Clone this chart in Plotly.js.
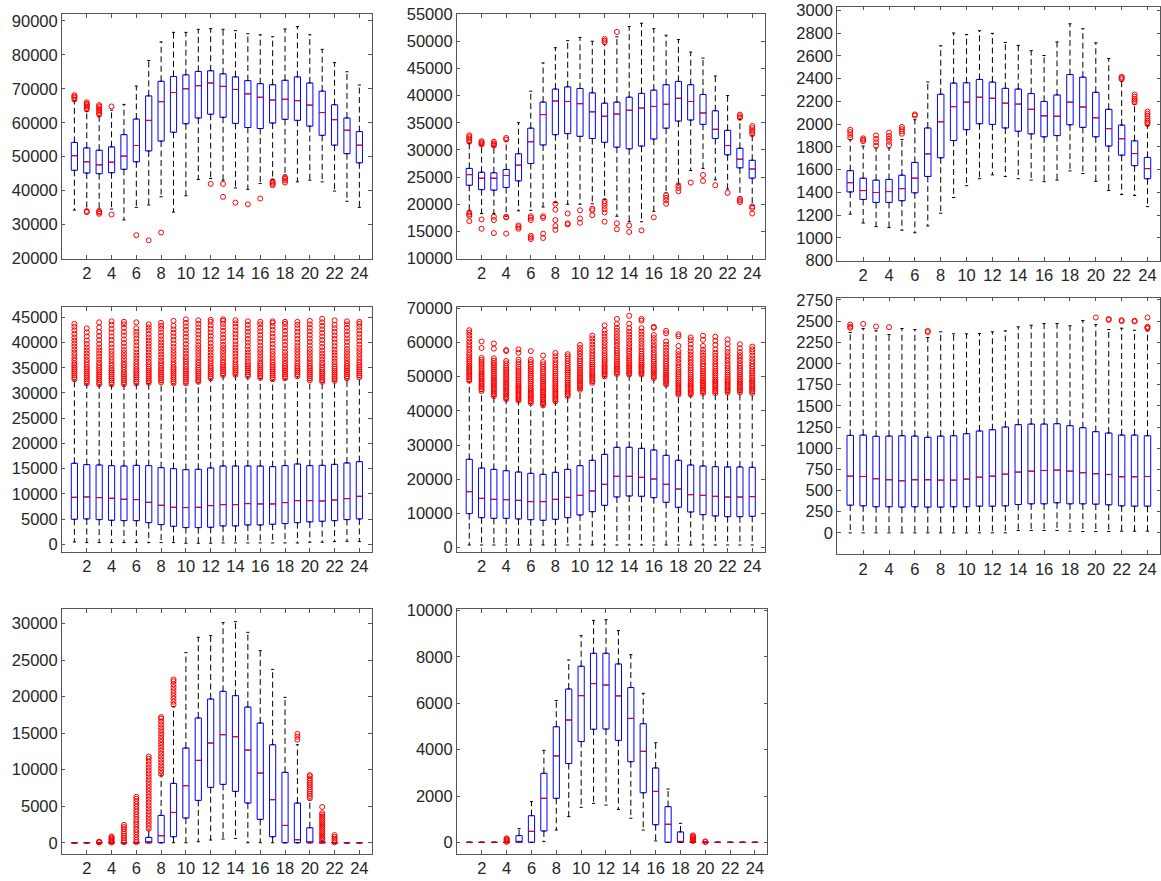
<!DOCTYPE html>
<html><head><meta charset="utf-8">
<script src="https://cdn.plot.ly/plotly-3.0.1.min.js"></script>
<style>html,body{margin:0;padding:0;background:#fff}#chart{width:1161px;height:881px}</style>
</head><body><div id="chart"></div>
<script>
const hours = [1,2,3,4,5,6,7,8,9,10,11,12,13,14,15,16,17,18,19,20,21,22,23,24];
const hourTicks = [2,4,6,8,10,12,14,16,18,20,22,24];

// Panel 1
const p1Lower  = [34300,34500,34600,34600,31400,35100,35800,38200,33700,38500,43300,43600,43100,40800,40400,42100,43300,44600,42600,43100,42600,39900,36900,35100];
const p1Q1     = [46000,45200,45000,45300,46300,48500,51700,54600,57200,59700,61400,62500,61600,59800,58600,58300,59900,61000,60700,59000,56300,53400,50900,48200];
const p1Median = [50300,48500,47600,48400,50200,53300,60700,66200,68900,70000,70900,71700,70700,69800,68500,67500,66700,66900,66500,65200,63000,60900,57800,53400];
const p1Q3     = [54200,52600,51900,52900,56500,61100,67900,72200,73600,74100,75100,75300,74400,73500,72400,71500,71200,72500,73500,71700,69300,65300,61400,57400];
const p1Upper  = [66500,63300,61800,63700,65400,70800,78300,83800,86600,86600,87500,87700,87500,87100,86200,85900,85300,87600,88300,85900,81600,77700,75000,71100];
const p1Outliers = [[66800,67300,67700,68100],[33700,34000,63900,64300,64800,65200,65600,66000],[33200,33600,34000,62400,62800,63300,63800,64300,64800,65200],[33000,64800],[],[26900],[25400],[27700],[],[],[],[42000],[42000,38200],[36500],[36000],[37700],[41600,42000,42400,42800],[42400,43000,43500,44000],[],[],[],[],[],[]];

// Panel 2
const p2Lower  = [18800,18300,18300,17800,18800,18900,19500,20300,20000,20000,20100,20900,17800,16800,16800,18700,22100,23700,26200,26600,24500,22800,21400,19800];
const p2Q1     = [23500,22700,22600,23100,24300,27500,30900,32800,33000,32500,32100,31400,30500,30200,30700,32000,34000,35300,35500,34700,32100,29100,26700,24800];
const p2Median = [25450,24800,24800,25300,27200,31500,36500,39000,38900,38500,37000,36200,36600,37300,37700,38000,38400,39500,38900,36800,33800,30800,28300,26500];
const p2Q3     = [26600,25900,25800,26400,29300,34000,38800,41200,41600,41300,40500,38600,38800,39700,40400,41000,42000,42600,42000,40200,37200,33600,30300,28100];
const p2Upper  = [31200,30800,30600,31600,35000,40800,46000,48800,50100,50700,50000,49400,50800,52700,53300,52300,51100,50300,48000,46900,43600,40000,35600,32600];
const p2Outliers = [[31500,31800,32100,32400,32700,18500,18200,17900,16900],[31000,31200,31400,31600,17200,15500],[30800,31000,31200,31500,17700,17100,14700],[31900,32200,17700,17600,14600],[16100,15800,15500],[17800,17500,17100,14200,13900,13600],[17800,17500,14600,13800],[20100,19000,17100,16000,15300],[18300,16500,16300],[18900,17400,16600],[19200,18900,18000],[49800,50100,50400,20600,20200,19700,19100,18500,16800],[51700,16500,15400],[16100,14900],[15200],[17600],[21700,21200,20700,20100],[23500,23000,22400],[24000],[25400,24300],[23500],[22100],[35900,36200,36500,21000,20700,20400],[32900,33300,33600,34000,34400,19600,19300,18300]];

// Panel 3
const p3Lower  = [1209,1131,1099,1091,1068,1045,1105,1217,1355,1459,1520,1554,1540,1520,1508,1494,1508,1589,1566,1497,1416,1381,1373,1275];
const p3Q1     = [1404,1338,1312,1312,1327,1396,1540,1704,1856,1951,2003,1997,1966,1937,1914,1888,1899,1994,1971,1888,1807,1727,1635,1520];
const p3Median = [1485,1416,1399,1407,1433,1525,1738,2020,2153,2193,2236,2227,2184,2176,2130,2072,2069,2193,2150,2055,1960,1871,1741,1609];
const p3Q3     = [1591,1525,1508,1514,1551,1663,1966,2262,2360,2363,2392,2369,2314,2308,2268,2199,2256,2435,2412,2279,2130,1991,1853,1707];
const p3Upper  = [1865,1807,1790,1790,1865,2038,2369,2688,2800,2786,2820,2797,2717,2691,2645,2602,2722,2881,2838,2714,2576,2374,2173,1986];
const p3Outliers = [[1880,1905,1930,1950],[1850,1862,1875],[1810,1840,1870,1900],[1815,1845,1870,1895,1925],[1915,1935,1955,1975],[2075,2085],[],[],[],[],[],[],[],[],[],[],[],[],[],[],[],[2395,2405,2415],[2190,2205,2220,2240,2260],[2000,2015,2030,2050,2070,2090,2110]];

// Panel 4
const p4Lower  = [460,330,330,330,330,330,330,330,330,200,200,200,260,260,260,260,260,260,260,400,400,530,590,530];
const p4Q1     = [4950,5020,4890,4760,4690,4690,4290,3900,3570,3300,3300,3370,3630,3630,3830,3830,3960,4100,4290,4430,4560,4690,4890,5020];
const p4Median = [9310,9380,9250,9120,8920,8850,8320,7730,7330,7270,7330,7660,7860,7860,8060,7990,7990,8260,8650,8650,8590,8780,9050,9510];
const p4Q3     = [16050,15790,15720,15590,15520,15650,15590,15190,14990,14800,14860,15130,15520,15520,15520,15520,15390,15590,15920,15590,15650,15850,16120,16380];
const p4Upper  = [32560,31770,31570,31570,31570,31770,31900,32030,31770,31770,32100,32760,33420,33550,33220,32890,32560,32760,33220,32430,32100,32360,32760,33020];
const p4Outliers = [
[32700,33100,33500,33900,34300,34700,35100,35500,35900,36400,36900,37500,38000,38600,39200,39800,40400,41000,41700,42400,43100,43700],
[31900,32300,32700,33100,33500,33900,34300,34700,35100,35600,36100,36600,37200,37800,38400,39000,39700,40400,41200,42000,42800],
[31700,32100,32500,32900,33300,33700,34100,34500,35000,35500,36000,36600,37200,37800,38400,39000,39700,40500,41300,42100,43000,44000],
[31700,32100,32500,32900,33300,33700,34100,34500,34900,35400,35900,36500,37100,37700,38300,39000,39700,40500,41200,42000,42700,43500,44200],
[31700,32100,32500,32900,33300,33700,34100,34600,35100,35600,36100,36700,37300,37900,38500,39200,39900,40600,41400,42100,42900,43600,44100],
[31900,32300,32700,33100,33500,33900,34300,34700,35200,35700,36200,36800,37400,38000,38700,39400,40100,40800,41500,42100,42800,44000],
[32000,32400,32800,33200,33600,34000,34400,34800,35200,35700,36200,36800,37400,38000,38600,39200,39800,40400,41000,41700,42400,43000,43600],
[32100,32500,32900,33300,33700,34100,34500,34900,35400,35900,36400,37000,37600,38200,38800,39400,40000,40600,41300,42000,42700,43300,43900],
[31900,32300,32700,33100,33500,33900,34300,34700,35100,35600,36100,36700,37300,37900,38500,39100,39800,40500,41200,41900,42600,43300,44300],
[31900,32300,32700,33100,33500,33900,34300,34700,35200,35700,36200,36700,37200,37800,38400,39000,39700,40400,41100,41800,42500,43200,43900,44600],
[32200,32600,33000,33400,33800,34200,34600,35000,35500,36000,36500,37100,37700,38300,38900,39500,40200,40900,41600,42300,43000,43700,44400],
[32900,33300,33700,34100,34500,34900,35300,35800,36300,36800,37400,38000,38600,39200,39900,40600,41300,42000,42700,43400,44100,44500],
[33500,33900,34300,34700,35100,35500,36000,36500,37100,37700,38300,38900,39500,40200,40900,41600,42300,43000,43700,44300,44600],
[33600,34000,34400,34800,35200,35600,36100,36600,37200,37800,38400,39000,39600,40300,41000,41700,42400,43100,43800,44400],
[33300,33700,34100,34500,34900,35300,35700,36200,36800,37400,38000,38600,39300,40000,40700,41400,42100,42800,43500,44200],
[33000,33400,33800,34200,34600,35000,35400,35800,36300,36900,37500,38100,38700,39400,40100,40800,41500,42200,42900,43600,44100],
[32700,33100,33500,33900,34300,34700,35100,35500,36000,36500,37100,37700,38300,39000,39700,40400,41100,41800,42500,43200,43900,44200],
[32900,33300,33700,34100,34500,34900,35300,35800,36300,36900,37500,38100,38800,39500,40200,40900,41600,42300,43000,43700,44100],
[33300,33700,34100,34500,34900,35300,35800,36300,36900,37500,38100,38700,39300,40000,40700,41400,42100,42800,43500,44100],
[32500,32900,33300,33700,34100,34500,34900,35300,35800,36300,36900,37500,38100,38700,39400,40100,40800,41500,42200,42900,43600,44300],
[32200,32600,33000,33400,33800,34200,34600,35000,35500,36000,36600,37200,37800,38400,39100,39800,40500,41200,41900,42600,43300,44000,44700],
[32400,32800,33200,33600,34000,34400,34800,35200,35700,36200,36800,37400,38000,38600,39300,40000,40700,41400,42100,42800,43500,44400],
[32900,33300,33700,34100,34500,34900,35300,35800,36300,36900,37500,38100,38700,39400,40100,40800,41500,42200,42900,43600,44200],
[33100,33500,33900,34300,34700,35100,35500,36000,36500,37100,37700,38300,38900,39600,40300,41000,41700,42400,43100,43700,44100]];

// Panel 5
const p5Lower  = [780,780,780,780,780,780,780,780,780,780,780,780,780,780,780,780,780,780,780,780,780,780,780,780];
const p5Q1     = [9950,8780,8580,8580,8390,8190,8000,8290,8780,9560,10530,12380,14820,15110,15020,14630,13260,11800,10430,9650,9260,9070,9070,9170];
const p5Median = [16380,14430,14140,14040,13850,13460,13460,14140,14720,15310,16580,18530,20870,20870,20570,20090,18530,17160,15500,15310,15020,14820,14820,14920];
const p5Q3     = [25840,23300,22900,22520,22130,21740,21450,22040,22900,23990,25550,27300,29350,29350,29060,28570,27010,25550,24180,23890,23690,23600,23600,23500];
const p5Upper  = [48560,45630,44170,43200,42900,42200,41540,42700,44170,46120,48070,50020,50700,50500,50500,49530,47580,44660,44660,45140,45140,45340,45340,45140];
const p5Outliers = [
[48800,49300,49800,50300,50800,51300,51800,52300,52800,53300,53900,54500,55100,55700,56400,57100,57900,58700,59500,60300,61200,62100,62900,63600],
[45800,46300,46800,47300,47800,48300,48800,49300,49800,50300,50800,51300,51900,52500,53100,53700,54300,54900,55500,58400,60300],
[44300,44800,45300,45800,46300,46800,47300,47800,48300,48800,49300,49800,50400,51000,51600,52200,52800,53400,54000,54700,55400,58200,59700],
[43400,43900,44400,44900,45400,45900,46400,46900,47400,47900,48400,49000,49600,50200,50800,51400,52000,52600,53200,53900,54600,57500,57800],
[43000,43500,44000,44500,45000,45500,46000,46500,47000,47500,48100,48700,49300,49900,50500,51100,51700,52300,52900,53600,54300,55000,57000,58000],
[42300,42800,43300,43800,44300,44800,45300,45800,46300,46800,47400,48000,48600,49200,49800,50400,51000,51600,52200,52900,53600,54300,55000,57500],
[41600,42100,42600,43100,43600,44100,44600,45100,45600,46100,46700,47300,47900,48500,49100,49700,50300,50900,51500,52200,52900,53600,54300,56200],
[42800,43300,43800,44300,44800,45300,45800,46300,46800,47300,47900,48500,49100,49700,50300,50900,51500,52100,52800,53500,54200,55000,56000,56900],
[44300,44800,45300,45800,46300,46800,47300,47800,48300,48900,49500,50100,50700,51300,51900,52500,53200,53900,54600,55300,56000,56600],
[46200,46700,47200,47700,48200,48700,49200,49700,50200,50800,51400,52000,52600,53200,53800,54500,55200,55900,56700,57500,58400,59300],
[48200,48700,49200,49700,50200,50700,51200,51700,52300,52900,53500,54100,54700,55400,56100,56900,57700,58500,59400,60300,61200,62000],
[50100,50600,51100,51600,52100,52600,53100,53700,54300,54900,55500,56200,56900,57600,58400,59200,60000,60800,61700,62600,63500,65000],
[50800,51300,51800,52300,52800,53300,53800,54400,55000,55600,56200,56900,57600,58300,59100,59900,60700,61600,62500,63400,64300,65400,66900],
[50600,51100,51600,52100,52600,53100,53600,54200,54800,55400,56000,56700,57400,58100,58900,59700,60500,61400,62300,63200,64200,65500,67800],
[50600,51100,51600,52100,52600,53100,53600,54200,54800,55400,56000,56700,57400,58100,58900,59700,60500,61400,62300,63200,64200,66400,66900],
[49600,50100,50600,51100,51600,52100,52600,53200,53800,54400,55000,55700,56400,57100,57900,58700,59500,60400,61300,62200,64300,64600],
[47700,48200,48700,49200,49700,50200,50700,51300,51900,52500,53100,53800,54500,55200,56000,56800,57600,58500,59400,60300,62700,63400],
[44800,45300,45800,46300,46800,47300,47800,48300,48900,49500,50100,50700,51300,52000,52700,53400,54200,55000,55800,56600,57500,59000,61800,62400],
[44800,45300,45800,46300,46800,47300,47800,48300,48800,49400,50000,50600,51200,51900,52600,53300,54100,54900,55700,56500,57400,58400,59500,60700,61500],
[45200,45700,46200,46700,47200,47700,48200,48700,49200,49800,50400,51000,51600,52300,53000,53700,54500,55300,56100,57000,57900,59000,60800,62000],
[45200,45700,46200,46700,47200,47700,48200,48700,49200,49800,50400,51000,51600,52300,53000,53700,54500,55300,56100,57000,58000,59300,60500,61700],
[45400,45900,46400,46900,47400,47900,48400,48900,49400,50000,50600,51200,51800,52500,53200,53900,54700,55500,56300,57200,58200,59600,60900],
[45400,45900,46400,46900,47400,47900,48400,48900,49400,50000,50600,51200,51800,52500,53200,53900,54700,55500,56300,57200,58300,59500],
[45200,45700,46200,46700,47200,47700,48200,48700,49200,49800,50400,51000,51600,52300,53000,53700,54500,55300,56200,57200,58000,58800]];

// Panel 6
const p6Lower  = [0,0,0,0,0,0,0,0,0,0,0,0,0,28,28,28,28,20,16,16,16,20,20,20];
const p6Q1     = [327,319,308,308,304,308,304,304,308,308,315,315,319,335,343,343,355,343,343,339,331,319,315,315];
const p6Median = [670,666,639,627,615,627,627,623,623,635,658,670,694,718,729,737,741,729,710,698,690,662,662,666];
const p6Q3     = [1151,1155,1140,1143,1147,1143,1128,1143,1147,1171,1203,1218,1250,1278,1285,1285,1289,1266,1242,1195,1179,1155,1155,1147];
const p6Upper  = [2366,2413,2385,2342,2413,2401,2307,2374,2350,2350,2354,2374,2385,2433,2452,2472,2472,2445,2508,2460,2401,2417,2393,2385];
const p6Outliers = [[2420,2435,2460],[2468],[2437],[2429],[],[],[2370,2385],[],[],[],[],[],[],[],[],[],[],[],[],[2543],[2515,2525],[2500,2512],[2496,2505],[2543,2413,2425,2433]];

// Panel 7
const p7Lower  = [0,0,0,0,0,0,0,0,0,0,140,370,500,590,0,0,0,0,0,0,0,0,0,0];
const p7Q1     = [0,0,0,0,0,0,0,0,820,3380,5800,7580,7990,7030,5430,3200,820,0,0,0,0,0,0,0];
const p7Median = [0,0,0,0,0,0,0,960,4150,7810,11280,13650,14790,14520,12690,9540,5890,2370,410,0,0,0,0,0];
const p7Q3     = [0,0,0,0,0,20,730,3740,8130,12970,17080,19680,20730,20140,18580,16390,13420,9630,5430,2050,100,0,0,0];
const p7Upper  = [0,0,0,0,0,50,1735,9270,18630,26030,28130,28360,30140,30270,28810,26300,23740,19910,13420,5840,250,0,0,0];
const p7Outliers = [[],[],[40,90,140],[30,150,300,450,600,750,850],[60,350,650,950,1250,1550,1850,2150,2450],
[80,400,750,1100,1450,1800,2150,2500,2850,3200,3550,3900,4250,4600,4950,5300,5650,6000,6300],
[1900,2300,2700,3100,3500,3900,4300,4700,5100,5500,5900,6300,6700,7100,7500,7900,8300,8700,9100,9500,9900,10300,10700,11100,11500,11800],
[9400,9800,10200,10600,11000,11400,11800,12200,12600,13000,13400,13800,14200,14600,15000,15400,15800,16200,16600,17000,17200],
[18900,19300,19700,20100,20500,20900,21300,21700,22100,22350],
[],[],[],[],[],[],[],[],[],[14100,14500,14900],
[6100,6400,6700,7000,7300,7600,7900,8200,8500,8800,9100,9250],
[300,550,800,1050,1300,1550,1800,2050,2300,2550,2800,3050,3300,3550,3800,4050,4900],
[50,300,550,800,1050],[],[]];

// Panel 8
const p8Lower  = [0,0,0,0,0,0,30,530,1110,1510,1680,1610,1420,1040,530,60,0,0,0,0,0,0,0,0];
const p8Q1     = [0,0,0,0,0,0,490,1900,3400,4350,4880,4890,4400,3480,2140,760,0,0,0,0,0,0,0,0];
const p8Median = [0,0,0,0,0,475,1900,3730,5280,6330,6850,6790,6320,5350,3930,2200,780,30,0,0,0,0,0,0];
const p8Q3     = [0,0,0,0,290,1150,2980,4990,6620,7600,8160,8160,7700,6680,5120,3210,1540,450,20,0,0,0,0,0];
const p8Upper  = [0,0,0,0,590,1755,3970,6120,7870,8920,9580,9610,9140,8100,6430,4300,2300,820,40,0,0,0,0,0];
const p8Outliers = [[],[],[],[20,60,100,140,170],[],[],[],[],[],[],[],[],[],[],[],[],[],[],[60,100,140,180,220,260,300],[10,40],[],[],[],[]];

const col = [[0.0534,0.3202],[0.3936,0.6585],[0.7212,0.9995]];
const panels = [
 {lower:p1Lower,q1:p1Q1,median:p1Median,q3:p1Q3,upper:p1Upper,out:p1Outliers,yr:[20000,92000],dt:10000,xd:col[0],yd:[0.7064,0.9841]},
 {lower:p2Lower,q1:p2Q1,median:p2Median,q3:p2Q3,upper:p2Upper,out:p2Outliers,yr:[10000,55000],dt:5000,xd:col[1],yd:[0.7064,0.9841]},
 {lower:p3Lower,q1:p3Q1,median:p3Median,q3:p3Q3,upper:p3Upper,out:p3Outliers,yr:[800,3032],dt:200,xd:col[2],yd:[0.7041,0.9925]},
 {lower:p4Lower,q1:p4Q1,median:p4Median,q3:p4Q3,upper:p4Upper,out:p4Outliers,yr:[-1470,46980],dt:5000,xd:col[0],yd:[0.3738,0.6512]},
 {lower:p5Lower,q1:p5Q1,median:p5Median,q3:p5Q3,upper:p5Upper,out:p5Outliers,yr:[-1170,70300],dt:10000,xd:col[1],yd:[0.3738,0.6512]},
 {lower:p6Lower,q1:p6Q1,median:p6Median,q3:p6Q3,upper:p6Upper,out:p6Outliers,yr:[-246,2777],dt:250,xd:col[2],yd:[0.3715,0.6621]},
 {lower:p7Lower,q1:p7Q1,median:p7Median,q3:p7Q3,upper:p7Upper,out:p7Outliers,yr:[-1500,32000],dt:5000,xd:col[0],yd:[0.0310,0.3087]},
 {lower:p8Lower,q1:p8Q1,median:p8Median,q3:p8Q3,upper:p8Upper,out:p8Outliers,yr:[-490,10070],dt:2000,xd:[0.3936,0.6610],yd:[0.0310,0.3087]}
];

const axisColor = '#555555';
const tickFont = {family:'Liberation Sans, Arial, Helvetica, sans-serif', size:16.5, color:'#262626'};
const data = [];
const layout = {
  width:1161, height:881, margin:{l:0,r:0,t:0,b:0},
  paper_bgcolor:'#ffffff', plot_bgcolor:'#ffffff', showlegend:false,
  font:tickFont, hovermode:false
};
const boxHalf = 0.25, capHalf = 0.125;

panels.forEach((p, k) => {
  const n = k + 1;
  const sfx = n === 1 ? '' : String(n);
  const xa = 'x' + sfx, ya = 'y' + sfx;
  // box body
  data.push({type:'box', x:hours, q1:p.q1, median:p.median, q3:p.q3,
    lowerfence:p.q1, upperfence:p.q3, width:0.5, boxpoints:false,
    line:{color:'#0000ff', width:1}, fillcolor:'rgba(255,255,255,0)',
    xaxis:xa, yaxis:ya, hoverinfo:'skip'});
  const wx=[], wy=[], cx=[], cy=[], mx=[], my=[], ox=[], oy=[];
  hours.forEach((h, i) => {
    wx.push(h, h, null, h, h, null);
    wy.push(p.q3[i], p.upper[i], null, p.q1[i], p.lower[i], null);
    cx.push(h-capHalf, h+capHalf, null, h-capHalf, h+capHalf, null);
    cy.push(p.upper[i], p.upper[i], null, p.lower[i], p.lower[i], null);
    mx.push(h-boxHalf, h+boxHalf, null);
    my.push(p.median[i], p.median[i], null);
    p.out[i].forEach(v => { ox.push(h); oy.push(v); });
  });
  data.push({type:'scatter', mode:'lines', x:wx, y:wy, xaxis:xa, yaxis:ya,
    line:{color:'#000000', width:1, dash:'6px,3.5px'}, hoverinfo:'skip'});
  data.push({type:'scatter', mode:'lines', x:cx, y:cy, xaxis:xa, yaxis:ya,
    line:{color:'#000000', width:1}, hoverinfo:'skip'});
  data.push({type:'scatter', mode:'lines', x:mx, y:my, xaxis:xa, yaxis:ya,
    line:{color:'#ff0000', width:1}, hoverinfo:'skip'});
  data.push({type:'scatter', mode:'markers', x:ox, y:oy, xaxis:xa, yaxis:ya,
    marker:{symbol:'circle-open', size:5, color:'#ff0000', line:{width:1, color:'#ff0000'}}, hoverinfo:'skip'});

  layout['xaxis' + sfx] = {domain:p.xd, anchor:ya, range:[0,25], tickmode:'array', tickvals:hourTicks,
    ticktext:hourTicks.map(String), ticks:'inside', ticklen:3.5, tickcolor:axisColor, tickwidth:1,
    showline:true, linecolor:axisColor, linewidth:1, mirror:'ticks', showgrid:false, zeroline:false,
    tickfont:tickFont, fixedrange:true, ticklabeloverflow:'allow'};
  layout['yaxis' + sfx] = {domain:p.yd, anchor:xa, range:p.yr, tick0:0, dtick:p.dt, tickformat:'d',
    ticks:'inside', ticklen:3.5, tickcolor:axisColor, tickwidth:1,
    showline:true, linecolor:axisColor, linewidth:1, mirror:'ticks', showgrid:false, zeroline:false,
    tickfont:tickFont, fixedrange:true, ticklabeloverflow:'allow'};
});

Plotly.newPlot('chart', data, layout, {staticPlot:true, displayModeBar:false});
</script>
</body></html>
